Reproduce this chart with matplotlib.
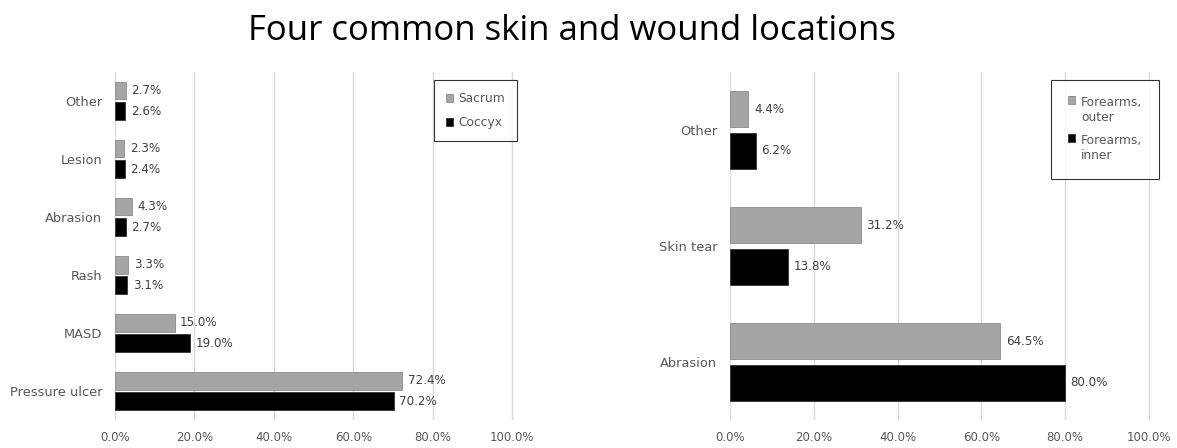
import matplotlib
matplotlib.use("Agg")
import matplotlib.pyplot as plt
import numpy as np
from matplotlib.ticker import FuncFormatter

left_cats = ["Other", "Lesion", "Abrasion", "Rash", "MASD", "Pressure ulcer"]
sacrum = [2.7, 2.3, 4.3, 3.3, 15.0, 72.4]
coccyx = [2.6, 2.4, 2.7, 3.1, 19.0, 70.2]

right_cats = ["Other", "Skin tear", "Abrasion"]
forearm_outer = [4.4, 31.2, 64.5]
forearm_inner = [6.2, 13.8, 80.0]

GRAY = "#A5A5A5"
BLACK = "#000000"
TXT = "#595959"

plt.rcParams["font.family"] = ["DejaVu Sans"]

fig = plt.figure(figsize=(11.77, 4.48), dpi=100)
fig.text(0.486, 0.93, "Four common skin and wound locations", ha="center", va="center",
         fontsize=25, family="Open Sans", color="#000000")


def draw(ax, cats, a, b, la, lb, off, h):
    y = np.arange(len(cats))
    ax.barh(y - off, a, height=h, color=GRAY, edgecolor="#8c8c8c", linewidth=0.6, label=la, zorder=3)
    ax.barh(y + off, b, height=h, color=BLACK, edgecolor="#333333", linewidth=0.6, label=lb, zorder=3)
    for yi, v in zip(y, a):
        ax.annotate("%.1f%%" % v, (v, yi - off), xytext=(4, 0), textcoords="offset points",
                    va="center", ha="left", fontsize=8.6, color="#404040")
    for yi, v in zip(y, b):
        ax.annotate("%.1f%%" % v, (v, yi + off), xytext=(4, 0), textcoords="offset points",
                    va="center", ha="left", fontsize=8.6, color="#404040")
    ax.set_yticks(y)
    ax.set_yticklabels(cats, fontsize=9.4, color=TXT)
    ax.set_ylim(len(cats) - 0.5, -0.5)
    ax.set_xlim(0, 100.5)
    ax.set_xticks(np.arange(0, 101, 20))
    ax.xaxis.set_major_formatter(FuncFormatter(lambda v, p: "%.1f%%" % v))
    ax.tick_params(axis="x", labelsize=8.5, colors=TXT, length=0, pad=8)
    ax.tick_params(axis="y", length=0, pad=9)
    ax.grid(axis="x", color="#D9D9D9", linewidth=1, zorder=0)
    for s in ax.spines.values():
        s.set_visible(False)


def legend_top(leg):
    # put the marker next to the first line of a wrapped label
    for col in leg._legend_handle_box.get_children():
        for row in col.get_children():
            row.align = "top"


ax1 = fig.add_axes([0.0977, 0.0625, 0.339, 0.777])
draw(ax1, left_cats, sacrum, coccyx, "Sacrum", "Coccyx", 0.175, 0.3)
leg1 = ax1.legend(loc="upper right", bbox_to_anchor=(1.0075, 0.977), borderaxespad=0,
                  fontsize=8.8, frameon=True, fancybox=False, edgecolor="#000000",
                  handlelength=0.6, handleheight=0.6, handletextpad=0.4, labelspacing=0.9,
                  borderpad=1.0, labelcolor=TXT)
leg1.get_frame().set_linewidth(0.8)

ax2 = fig.add_axes([0.6202, 0.0625, 0.3577, 0.777])
draw(ax2, right_cats, forearm_outer, forearm_inner, "Forearms,\nouter", "Forearms,\ninner",
     0.18, 0.315)
leg2 = ax2.legend(loc="upper right", bbox_to_anchor=(1.019, 0.977), borderaxespad=0,
                  fontsize=8.8, frameon=True, fancybox=False, edgecolor="#000000",
                  handlelength=0.6, handleheight=0.6, handletextpad=0.5, labelspacing=0.8,
                  borderpad=1.35, labelcolor=TXT)
leg2.get_frame().set_linewidth(0.8)
legend_top(leg2)

fig.savefig("out.png", dpi=100)
